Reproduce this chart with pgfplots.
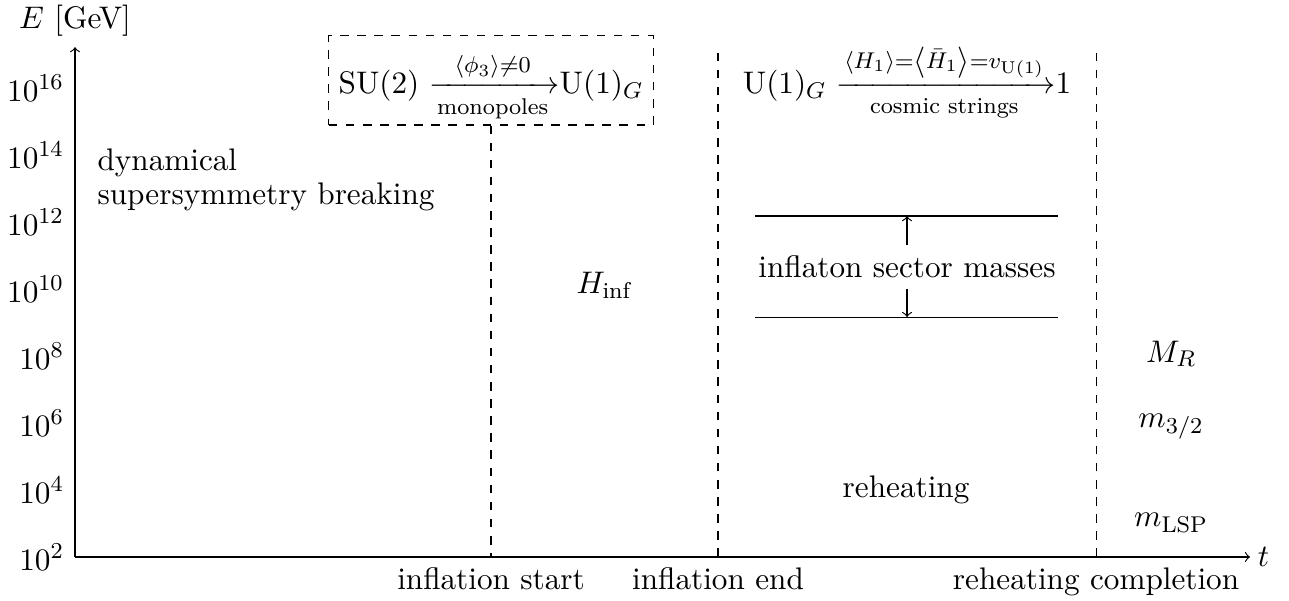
\documentclass[border=0pt,11pt]{standalone}
\usepackage{amsmath}
\usepackage{pgfplots}
\pgfplotsset{compat=1.18}
\begin{document}
\begin{tikzpicture}
\begin{axis}[
  width=412.3pt, height=178.9pt, scale only axis,
  axis lines=left,
  x axis line style={-to}, y axis line style={-to},
  xmin=0, xmax=1175,
  ymode=log, ymin=1e2, ymax=1.66e17,
  xtick={416,643,1021},
  xticklabels={inflation start, inflation end, reheating completion},
  ytick={1e2,1e4,1e6,1e8,1e10,1e12,1e14,1e16},
  major tick length=0pt, minor tick num=0,
  log basis y=10,
  clip=false,
  xlabel={$t$},
  x label style={at={(axis description cs:1,0)}, anchor=west, inner sep=2.5pt},
]
\coordinate (O) at (rel axis cs:0,0);
\addplot[black, dashed] coordinates {(643,1e2) (643,1.66e17)};
\addplot[black, dashed] coordinates {(1021,1e2) (1021,1.66e17)};
\addplot[black] coordinates {(680,1.51e12) (983,1.51e12)};
\addplot[black] coordinates {(680,1.45e9) (983,1.45e9)};

\node[draw, dashed, inner xsep=3.5pt, inner ysep=3.5pt, text height=16.7pt, text depth=7.55pt, anchor=base] (box) at (axis cs:416,6.86e15)
  {SU(2) $\xrightarrow[\text{monopoles}]{\langle\phi_3\rangle\neq0}$U$(1)_G$};
\draw[dashed] (box.south) -- (axis cs:416,1e2);

\node[anchor=base] at (axis cs:832,6.86e15)
  {U$(1)_G$ $\xrightarrow[\text{cosmic strings}]{\langle H_1\rangle=\left\langle\bar{H}_1\right\rangle=v_{\mathrm{U}(1)}}$1};

\node[anchor=base west, inner sep=0pt] at (axis cs:22,3.55e13) {dynamical};
\node[anchor=base west, inner sep=0pt] at (axis cs:22,3.24e12) {supersymmetry breaking};
\node[anchor=base] at (axis cs:529,7.59e9) {$H_{\text{inf}}$};

\node[anchor=base] (ism) at (axis cs:832,2.14e10) {inflaton sector masses};
\draw[->] (ism.north) -- (axis cs:832,1.51e12);
\draw[->] (ism.south) -- (axis cs:832,1.45e9);

\node[anchor=base] at (axis cs:831,6.17e3) {reheating};

\node[anchor=base] at (axis cs:1096,6.61e7) {$M_R$};
\node[anchor=base] at (axis cs:1096,7.59e5) {$m_{3/2}$};
\node[anchor=base] at (axis cs:1096,7.94e2) {$m_{\text{LSP}}$};

\node[anchor=base, inner sep=0pt] at ([yshift=6.7pt]rel axis cs:0,1) {$E$ [GeV]};
\end{axis}
\pgfresetboundingbox
\path ([shift={(-26.32pt,-15.09pt)}]O) rectangle ([shift={(425.96pt,195.44pt)}]O);
\end{tikzpicture}
\end{document}
